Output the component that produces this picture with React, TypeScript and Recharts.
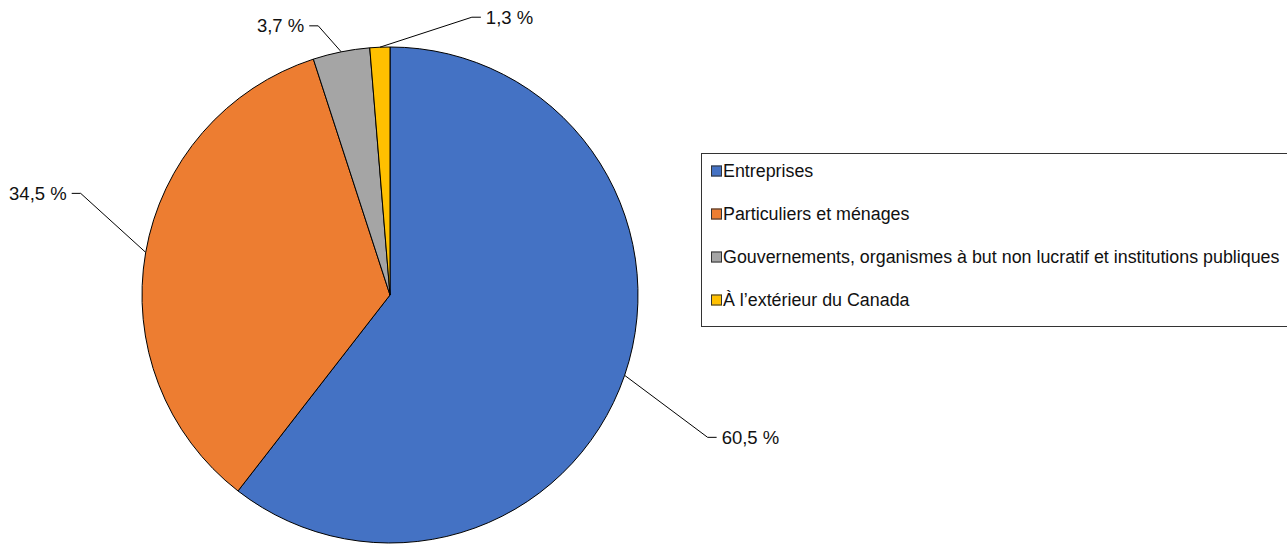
import { PieChart, Pie, Cell, Legend } from "recharts";

const categories = [
  "Entreprises",
  "Particuliers et ménages",
  "Gouvernements, organismes à but non lucratif et institutions publiques",
  "À l’extérieur du Canada",
];
const shares = [60.5, 34.5, 3.7, 1.3];
const colors = ["#4472C4", "#ED7D31", "#A5A5A5", "#FFC000"];

// hand-placed leader line elbows, relative to where the line leaves the slice
const labelElbows = [
  [83, 62],
  [-65, -59],
  [-23, -26],
  [92, -30],
];

const data = categories.map((name, i) => ({ name, value: shares[i] }));

const FONT = "'Liberation Sans', Arial, sans-serif";
const RADIAN = Math.PI / 180;

function fmt(v: number) {
  return v.toFixed(1).replace(".", ",") + " %";
}

function renderLabel(props: any) {
  const { cx, cy, midAngle, outerRadius, index, value } = props;
  const sx = cx + outerRadius * Math.cos(-midAngle * RADIAN);
  const sy = cy + outerRadius * Math.sin(-midAngle * RADIAN);
  const [dx, dy] = labelElbows[index];
  const mx = sx + dx;
  const my = sy + dy;
  const right = dx > 0;
  const ex = mx + (right ? 9 : -9);
  return (
    <g>
      <polyline points={`${sx},${sy} ${mx},${my} ${ex},${my}`} fill="none" stroke="#000" strokeWidth={1} />
      <text
        x={ex + (right ? 5 : -5)}
        y={my}
        textAnchor={right ? "start" : "end"}
        dominantBaseline="central"
        fontFamily={FONT}
        fontSize={18.5}
        fill="#111"
      >
        {fmt(value)}
      </text>
    </g>
  );
}

function LegendBox(props: any) {
  const payload = [...(props.payload || [])].sort(
    (a: any, b: any) => categories.indexOf(a.value) - categories.indexOf(b.value)
  );
  return (
    <div
      style={{
        border: "1px solid #333",
        width: 600,
        height: 172,
        boxSizing: "content-box",
        fontFamily: FONT,
        fontSize: 17.85,
        color: "#111",
        background: "#fff",
      }}
    >
      <div style={{ transform: "translateY(-4.5px)", paddingLeft: 9 }}>
        {payload.map((p: any) => (
          <div key={p.value} style={{ display: "flex", alignItems: "center", height: 43, whiteSpace: "nowrap" }}>
            <span
              style={{
                display: "inline-block",
                width: 9,
                height: 9,
                background: p.color,
                border: "1px solid #333",
                marginRight: 1,
              }}
            />
            {p.value}
          </div>
        ))}
      </div>
    </div>
  );
}

export default function App() {
  return (
    <div style={{ position: "absolute", left: 0, top: 0, width: 1287, height: 544, background: "#fff" }}>
      <PieChart width={1287} height={544} margin={{ top: 0, right: 0, bottom: 0, left: 0 }}>
        <Pie
          data={data}
          dataKey="value"
          nameKey="name"
          cx={390}
          cy={295}
          outerRadius={248}
          startAngle={90}
          endAngle={-270}
          stroke="#000"
          strokeWidth={1}
          label={renderLabel}
          labelLine={false}
          isAnimationActive={false}
        >
          {data.map((d, i) => (
            <Cell key={d.name} fill={colors[i]} />
          ))}
        </Pie>
        <Legend
          content={<LegendBox />}
          layout="vertical"
          wrapperStyle={{ position: "absolute", left: 701, top: 153, width: 620 }}
        />
      </PieChart>
    </div>
  );
}
